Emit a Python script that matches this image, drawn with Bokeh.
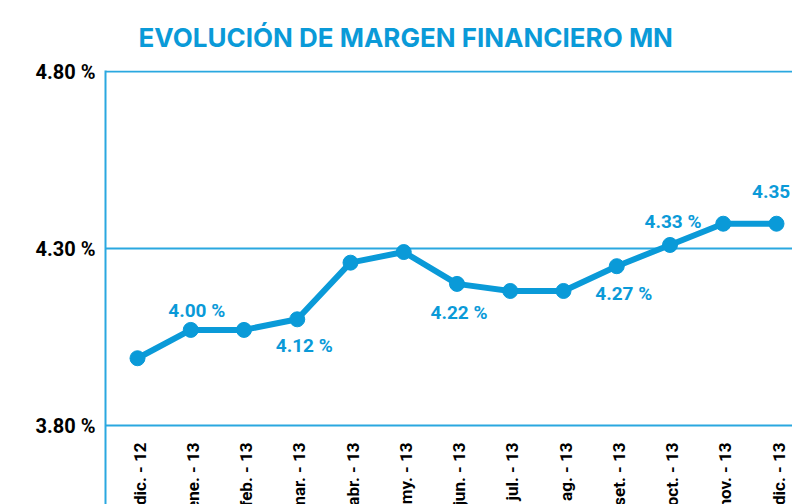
import math
from bokeh.plotting import figure
from bokeh.models import Range1d, FixedTicker, ColumnDataSource
from bokeh.core.properties import value
from bokeh.embed import file_html
from bokeh.resources import INLINE

# ---- data ----
title_text = "EVOLUCIÓN DE MARGEN FINANCIERO MN"
months = ["dic. - 12", "ene. - 13", "feb. - 13", "mar. - 13", "abr. - 13", "my. - 13",
          "jun. - 13", "jul. - 13", "ag. - 13", "set. - 13", "oct. - 13", "nov. - 13", "dic. - 13"]
margin = [3.99, 4.07, 4.07, 4.10, 4.26, 4.29, 4.20, 4.18, 4.18, 4.25, 4.31, 4.37, 4.37]
point_labels = ["", "4.00 %", "", "4.12 %", "", "", "4.22 %", "", "", "4.27 %", "4.33 %", "", "4.35 %"]
y_ticks = [3.80, 4.30, 4.80]
y_tick_labels = ["3.80 %", "4.30 %", "4.80 %"]

# ---- styles / positions ----
label_dx = [0, 6, 0, 7, 0, 0, 2, 0, 0, 7, 3, 0, 4]
label_dy = [0, -19, 0, 26, 0, 0, 29, 0, 0, 27, -23, 0, -32]

BLUE = "#0a9ad8"
GRID = "#2aa8e0"
COND = "Roboto"

W, H = 792, 504
LEFT, TOP = 105, 70
idx = list(range(len(months)))
px_per_unit = 354.0
y_end = y_ticks[-1] + 1.0 / px_per_unit
y_start = y_end - (H - TOP) / px_per_unit
x_step = 53.25
x_start = -(137 - LEFT) / x_step
x_end = (W - 137) / x_step

p = figure(width=W, height=H, output_backend="svg", toolbar_location=None,
           x_range=Range1d(x_start, x_end), y_range=Range1d(y_start, y_end),
           min_border_left=LEFT, min_border_right=0, min_border_top=TOP, min_border_bottom=0)
p.outline_line_color = None
p.background_fill_color = "white"
p.border_fill_color = "white"

p.title.text = title_text
p.title.text_font = "Inter"
p.title.text_font_style = "bold"
p.title.text_font_size = "26px"
p.title.text_color = BLUE
p.title.align = "left"
p.title.offset = 33
p.title.standoff = 36

p.xaxis.visible = False
p.xgrid.visible = False

p.yaxis.ticker = FixedTicker(ticks=y_ticks)
p.yaxis.major_label_overrides = {t: l for t, l in zip(y_ticks, y_tick_labels)}
p.yaxis.axis_line_color = GRID
p.yaxis.axis_line_width = 2
p.yaxis.major_tick_line_color = None
p.yaxis.minor_tick_line_color = None
p.yaxis.major_label_standoff = 4
p.yaxis.major_label_text_font = COND
p.yaxis.major_label_text_font_style = "bold"
p.yaxis.major_label_text_font_size = "20px"
p.yaxis.major_label_text_color = "black"

p.ygrid.ticker = FixedTicker(ticks=y_ticks)
p.ygrid.grid_line_color = GRID
p.ygrid.grid_line_width = 2

src = ColumnDataSource(dict(x=idx, y=margin, lab=point_labels, dx=label_dx, dy=label_dy,
                            month=months, base=[y_ticks[0]] * len(months)))

p.line("x", "y", source=src, line_color=BLUE, line_width=6)
p.scatter("x", "y", source=src, size=15, fill_color=BLUE, line_color=BLUE)

p.text("x", "y", text="lab", source=src, x_offset="dx", y_offset="dy",
       text_align="center", text_baseline="middle", text_color=BLUE,
       text_font=value(COND), text_font_style="bold", text_font_size="19px")

p.text("x", "base", text="month", source=src, angle=math.pi / 2, x_offset=2, y_offset=17,
       text_align="right", text_baseline="middle", text_color="black",
       text_font=value(COND), text_font_style="bold", text_font_size="17px")

open("out.html", "w").write(file_html(p, INLINE))
